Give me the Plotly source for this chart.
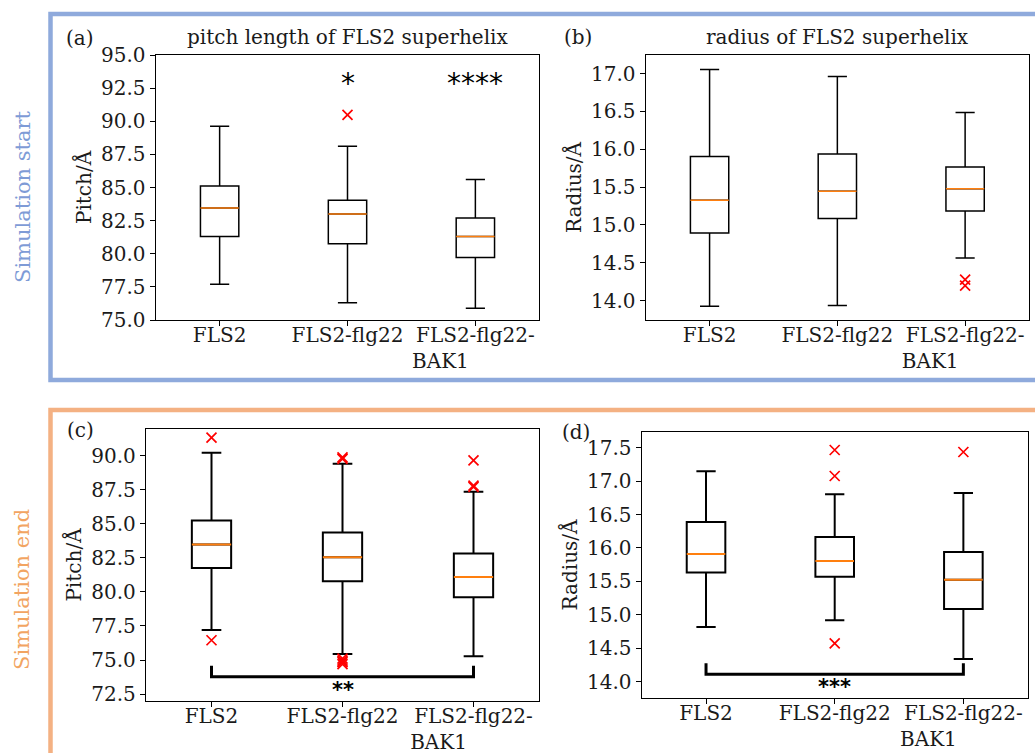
import plotly.graph_objects as go

# ---------------------------------------------------------------- data
categories = ["FLS2", "FLS2-flg22", "FLS2-flg22-\nBAK1"]
positions = [1, 2, 3]

# (a) pitch length, simulation start
pitch_start_whislo = [77.69, 76.30, 75.88]
pitch_start_q1 = [81.30, 80.75, 79.72]
pitch_start_med = [83.46, 83.00, 81.30]
pitch_start_q3 = [85.11, 84.03, 82.70]
pitch_start_whishi = [89.63, 88.12, 85.61]
pitch_start_fliers = [[], [90.48], []]
pitch_start_stars = ["", "*", "****"]
pitch_start_star_y = 93.1

# (b) radius, simulation start
radius_start_whislo = [13.925, 13.938, 14.564]
radius_start_q1 = [14.894, 15.084, 15.185]
radius_start_med = [15.326, 15.445, 15.480]
radius_start_q3 = [15.903, 15.938, 15.767]
radius_start_whishi = [17.053, 16.960, 16.485]
radius_start_fliers = [[], [], [14.278, 14.198]]

# (c) pitch length, simulation end
pitch_end_whislo = [77.21, 75.44, 75.27]
pitch_end_q1 = [81.76, 80.78, 79.61]
pitch_end_med = [83.48, 82.55, 81.10]
pitch_end_q3 = [85.25, 84.36, 82.82]
pitch_end_whishi = [90.22, 89.41, 87.35]
pitch_end_fliers = [[91.32, 76.45],
                    [89.88, 89.76, 75.10, 74.95, 74.85, 74.70],
                    [89.66, 87.80, 87.70]]
pitch_end_bracket = [74.58, 73.77]   # arm end, bar level
pitch_end_sig = ("**", 73.04)

# (d) radius, simulation end
radius_end_whislo = [14.818, 14.918, 14.340]
radius_end_q1 = [15.631, 15.571, 15.087]
radius_end_med = [15.910, 15.805, 15.526]
radius_end_q3 = [16.388, 16.164, 15.940]
radius_end_whishi = [17.146, 16.802, 16.822]
radius_end_fliers = [[], [17.465, 17.076, 14.574], [17.435]]
radius_end_bracket = [14.275, 14.110]
radius_end_sig = ("***", 13.96)

# ---------------------------------------------------------------- layout helpers
W, H = 1035, 753
SERIF = "DejaVu Serif"
STAR_FONT = "DejaVu Sans"
BLUE = "#8FAADC"
ORANGE = "#F4B183"
FS = 20
TXT = "#1a1a1a"


def fx(p):
    return p / W


def fy(p):
    return 1 - p / H


def tick_label(text):
    # second line of a wrapped label is left-aligned under the first one
    if "\n" not in text:
        return text
    first, second = text.split("\n")
    pad = "\u00a0" * 11
    return first + "<br>" + second + pad


panels = [
    dict(ax="", label="(a)", title="pitch length of FLS2 superhelix", ytitle="Pitch/Å",
         xdom=(155.7, 539.3), ydom=(55, 320), yrange=(75.0, 95.0), tick0=75.0, dtick=2.5,
         stats=(pitch_start_whislo, pitch_start_q1, pitch_start_med, pitch_start_q3, pitch_start_whishi),
         fliers=pitch_start_fliers, lw=1.5, lab_xy=(64, 38)),
    dict(ax="2", label="(b)", title="radius of FLS2 superhelix", ytitle="Radius/Å",
         xdom=(645.7, 1029.0), ydom=(55, 320), yrange=(13.745, 17.245), tick0=14.0, dtick=0.5,
         stats=(radius_start_whislo, radius_start_q1, radius_start_med, radius_start_q3, radius_start_whishi),
         fliers=radius_start_fliers, lw=1.5, lab_xy=(562, 37)),
    dict(ax="3", label="(c)", title=None, ytitle="Pitch/Å",
         xdom=(146.0, 539.0), ydom=(429, 701), yrange=(71.99, 91.96), tick0=72.5, dtick=2.5,
         stats=(pitch_end_whislo, pitch_end_q1, pitch_end_med, pitch_end_q3, pitch_end_whishi),
         fliers=pitch_end_fliers, lw=2.0, lab_xy=(65, 430),
         bracket=pitch_end_bracket, sig=pitch_end_sig),
    dict(ax="4", label="(d)", title=None, ytitle="Radius/Å",
         xdom=(641.7, 1027.7), ydom=(431.7, 698.3), yrange=(13.751, 17.739), tick0=14.0, dtick=0.5,
         stats=(radius_end_whislo, radius_end_q1, radius_end_med, radius_end_q3, radius_end_whishi),
         fliers=radius_end_fliers, lw=2.0, lab_xy=(560, 432),
         bracket=radius_end_bracket, sig=radius_end_sig),
]

BOX_W = 0.3

fig = go.Figure()
annotations = []
shapes = []

for p in panels:
    xa, ya = "x" + p["ax"], "y" + p["ax"]
    lo, q1, med, q3, hi = p["stats"]
    fig.add_trace(go.Box(
        x=positions, q1=q1, median=med, q3=q3, lowerfence=lo, upperfence=hi,
        width=BOX_W, whiskerwidth=0.5, boxpoints=False,
        line=dict(color="black", width=p["lw"]), fillcolor="rgba(255,255,255,0)",
        xaxis=xa, yaxis=ya, showlegend=False, hoverinfo="skip"))

    # orange median lines
    mx, my = [], []
    for pos, m in zip(positions, med):
        mx += [pos - BOX_W / 2, pos + BOX_W / 2, None]
        my += [m, m, None]
    fig.add_trace(go.Scatter(x=mx, y=my, mode="lines",
                             line=dict(color="#ff7f0e", width=p["lw"]),
                             xaxis=xa, yaxis=ya, showlegend=False, hoverinfo="skip"))

    # outliers
    ox, oy = [], []
    for pos, fl in zip(positions, p["fliers"]):
        ox += [pos] * len(fl)
        oy += fl
    if oy:
        fig.add_trace(go.Scatter(x=ox, y=oy, mode="markers",
                                 marker=dict(symbol="x-thin-open", size=10, color="red",
                                             line=dict(color="red", width=1.7)),
                                 xaxis=xa, yaxis=ya, showlegend=False, hoverinfo="skip"))

    # significance bracket
    if "bracket" in p:
        arm, bar = p["bracket"]
        fig.add_trace(go.Scatter(x=[positions[0], positions[0], positions[-1], positions[-1]],
                                 y=[arm, bar, bar, arm], mode="lines",
                                 line=dict(color="black", width=3),
                                 xaxis=xa, yaxis=ya, showlegend=False, hoverinfo="skip"))
        text, ty = p["sig"]
        annotations.append(dict(x=positions[1], y=ty, xref=xa, yref=ya, text="<b>" + text + "</b>",
                                showarrow=False, font=dict(family=STAR_FONT, size=21, color="black"),
                                xanchor="center", yanchor="middle", yshift=-3))

    xkey = "xaxis" + p["ax"]
    ykey = "yaxis" + p["ax"]
    fig.layout[xkey] = dict(
        domain=[fx(p["xdom"][0]), fx(p["xdom"][1])], anchor=ya, range=[0.5, 3.5],
        tickmode="array", tickvals=positions, ticktext=[tick_label(c) for c in categories],
        ticks="outside", ticklen=5, tickwidth=1.2, tickcolor="black", ticklabelstandoff=-8,
        showline=True, mirror=True, linecolor="black", linewidth=1.3,
        showgrid=False, zeroline=False, automargin=False,
        tickfont=dict(family=SERIF, size=FS, color=TXT))
    fig.layout[ykey] = dict(
        domain=[fy(p["ydom"][1]), fy(p["ydom"][0])], anchor=xa, range=list(p["yrange"]),
        tick0=p["tick0"], dtick=p["dtick"], tickformat=".1f",
        ticks="outside", ticklen=5, tickwidth=1.2, tickcolor="black",
        showline=True, mirror=True, linecolor="black", linewidth=1.3,
        showgrid=False, zeroline=False, automargin=False,
        tickfont=dict(family=SERIF, size=FS, color=TXT),
        title=dict(text=p["ytitle"], font=dict(family=SERIF, size=FS, color=TXT), standoff=4))

    lx, ly = p["lab_xy"]
    annotations.append(dict(x=fx(lx), y=fy(ly), xref="paper", yref="paper", text=p["label"],
                            showarrow=False, xanchor="left", yanchor="middle",
                            font=dict(family=SERIF, size=FS, color=TXT)))
    if p["title"]:
        annotations.append(dict(x=fx((p["xdom"][0] + p["xdom"][1]) / 2), y=fy(37),
                                xref="paper", yref="paper", text=p["title"], showarrow=False,
                                xanchor="center", yanchor="middle",
                                font=dict(family=SERIF, size=FS, color=TXT)))

# significance stars above panel (a)
for pos, s in zip(positions, pitch_start_stars):
    if s:
        annotations.append(dict(x=pos, y=pitch_start_star_y, xref="x", yref="y", text=s,
                                showarrow=False, xanchor="center", yanchor="middle", yshift=-3,
                                font=dict(family=STAR_FONT, size=28, color="black")))

# row labels
annotations.append(dict(x=fx(23), y=fy(197), xref="paper", yref="paper", text="Simulation start",
                        textangle=-90, showarrow=False, xanchor="center", yanchor="middle",
                        font=dict(family=SERIF, size=21, color="#7E9BD6")))
annotations.append(dict(x=fx(22), y=fy(590), xref="paper", yref="paper", text="Simulation end",
                        textangle=-90, showarrow=False, xanchor="center", yanchor="middle",
                        font=dict(family=SERIF, size=21, color="#F2A461")))

# coloured frames around the two rows
shapes.append(dict(type="rect", xref="paper", yref="paper",
                   x0=fx(50.5), x1=fx(1060), y0=fy(380), y1=fy(14),
                   line=dict(color=BLUE, width=4.5)))
shapes.append(dict(type="rect", xref="paper", yref="paper",
                   x0=fx(50.5), x1=fx(1060), y0=fy(790), y1=fy(410),
                   line=dict(color=ORANGE, width=4.5)))

fig.update_layout(
    width=W, height=H, margin=dict(l=0, r=0, t=0, b=0),
    paper_bgcolor="white", plot_bgcolor="white",
    annotations=annotations, shapes=shapes, showlegend=False)

fig.write_html("out.html")
